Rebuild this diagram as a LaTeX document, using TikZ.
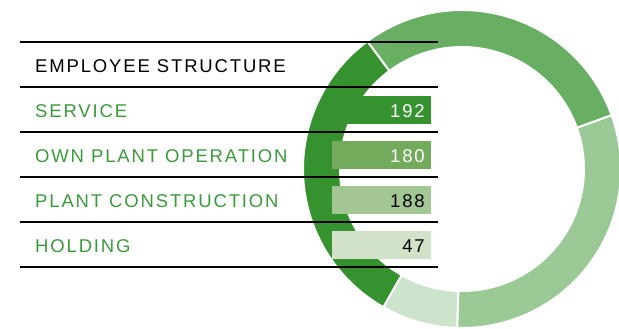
\documentclass[tikz,border=0pt]{standalone}
\usepackage{fontspec}
\setmainfont{Liberation Sans}
\newfontfamily\spacedfont[LetterSpace=10]{Liberation Sans}
\definecolor{txtgreen}{HTML}{3A9A3A}
\definecolor{segA}{HTML}{36922F}
\definecolor{segB}{HTML}{68AE63}
\definecolor{segC}{HTML}{9BC995}
\definecolor{segD}{HTML}{CCE4CC}
\definecolor{barB}{HTML}{71AB5B}
\definecolor{barC}{HTML}{A3C792}
\definecolor{barD}{HTML}{D2E2C8}
\newcommand\ringseg[3]{%
  \fill[#3, draw=white, line width=2pt]
    ([shift={(-#1:159)}]C) arc[start angle=-#1, end angle=-#2, radius=159]
    -- ([shift={(-#2:122)}]C) arc[start angle=-#2, end angle=-#1, radius=122] -- cycle;}
\tikzset{
  lbl/.style={anchor=base west, inner sep=0pt, font=\fontsize{18.5}{21}\spacedfont, text=txtgreen},
  num/.style={anchor=base east, inner sep=0pt, font=\fontsize{18.5}{21}\spacedfont},
  rule/.style={line width=1.2pt, black},
  bar/.style={inner sep=0pt, minimum width=99pt, minimum height=28pt, anchor=north west}
}
\begin{document}
\begin{tikzpicture}[x=1pt, y=-1pt]
\clip (0,0) rectangle (619,329);
\useasboundingbox (0,0) rectangle (619,329);
\coordinate (C) at (462,169);
% ring
\ringseg{126.5}{240.4}{segA}
\ringseg{240.4}{268.3}{segD}
\ringseg{268.3}{379.8}{segC}
\ringseg{19.8}{126.5}{segB}
% rules
\foreach \y/\n in {42/r0, 87/r1, 132/r2, 177/r3, 222/r4, 267/r5}{
  \coordinate (\n a) at (20,\y);
  \coordinate (\n b) at (438,\y);
  \draw[rule] (\n a) -- (\n b);
}
% bars
\node[bar, fill=segA] (b1) at (332,96) {};
\node[bar, fill=barB] (b2) at (332,141) {};
\node[bar, fill=barC] (b3) at (332,186) {};
\node[bar, fill=barD] (b4) at (332,231) {};
% labels
\node[lbl, text=black] (h) at (35,72.5) {EMPLOYEE STRUCTURE};
\node[lbl] (l1) at (35,117.5) {SERVICE};
\node[lbl] (l2) at (35,162.5) {OWN PLANT OPERATION};
\node[lbl] (l3) at (35,207.5) {PLANT CONSTRUCTION};
\node[lbl] (l4) at (35,252.5) {HOLDING};
% numbers
\node[num, text=white] (n1) at (425,117.5) {192};
\node[num, text=white] (n2) at (425,162.5) {180};
\node[num, text=black] (n3) at (425,207.5) {188};
\node[num, text=black] (n4) at (425,252.5) {47};
\end{tikzpicture}
\end{document}
